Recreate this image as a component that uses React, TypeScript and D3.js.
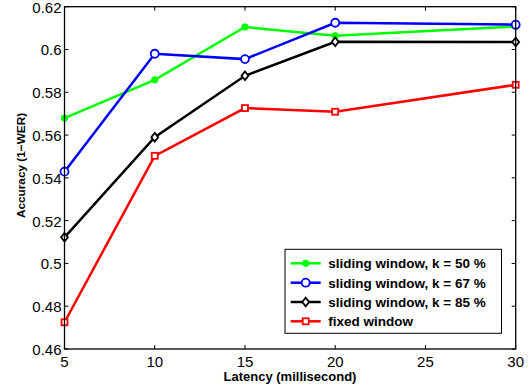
import React from "react";
import * as d3 from "d3";

const latency = [5, 10, 15, 20, 30];
const slide50 = [0.5679, 0.5858, 0.6105, 0.6064, 0.6108];
const slide67 = [0.5429, 0.598, 0.5955, 0.6125, 0.6116];
const slide85 = [0.5122, 0.559, 0.5877, 0.6036, 0.6035];
const fixedWin = [0.4725, 0.5503, 0.5726, 0.5709, 0.5835];
const xTicks = [5, 10, 15, 20, 25, 30];
const yTicks = [0.46, 0.48, 0.5, 0.52, 0.54, 0.56, 0.58, 0.6, 0.62];
const seriesNames = [
  "sliding window, k = 50 %",
  "sliding window, k = 67 %",
  "sliding window, k = 85 %",
  "fixed window",
];

const W = 529, H = 390;
const L = 64.5, R = 515.7, T = 6.7, B = 349;
const FONT = "'Liberation Sans', Arial, Helvetica, sans-serif";

type Kind = "dot" | "circle" | "diamond" | "square";

function Marker({ kind, x, y, color }: { kind: Kind; x: number; y: number; color: string }) {
  if (kind === "dot") return <circle cx={x} cy={y} r={3.2} fill={color} stroke={color} strokeWidth={1} />;
  if (kind === "circle") return <circle cx={x} cy={y} r={4} fill="white" stroke={color} strokeWidth={1.8} />;
  if (kind === "diamond") {
    const s = 4.3;
    return <path d={`M${x},${y - s}L${x + s * 0.8},${y}L${x},${y + s}L${x - s * 0.8},${y}Z`} fill="white" stroke={color} strokeWidth={1.8} />;
  }
  return <rect x={x - 3} y={y - 3} width={6} height={6} fill="white" stroke={color} strokeWidth={1.8} />;
}

export default function App() {
  const x = d3.scaleLinear().domain([5, 30]).range([L, R]);
  const y = d3.scaleLinear().domain([0.46, 0.62]).range([B, T]);
  const line = d3.line<number>().x((_, i) => x(latency[i])).y((d) => y(d));

  const series: { vals: number[]; color: string; kind: Kind }[] = [
    { vals: slide50, color: "#00ff00", kind: "dot" },
    { vals: slide67, color: "#0000ff", kind: "circle" },
    { vals: slide85, color: "#000000", kind: "diamond" },
    { vals: fixedWin, color: "#ff0000", kind: "square" },
  ];
  const tl = 4;

  const legX = 285, legY = 249.3, legW = 216.5, legH = 84;
  const rowY = [263.3, 282.7, 302, 321.3];

  return (
    <svg width={W} height={H} style={{ position: "absolute", left: 0, top: 0, background: "white" }} fontFamily={FONT}>
      <rect x={0} y={0} width={W} height={H} fill="white" />
      {xTicks.map((t) => (
        <g key={"x" + t}>
          <line x1={x(t)} x2={x(t)} y1={B} y2={B - tl} stroke="black" strokeWidth={1} />
          <line x1={x(t)} x2={x(t)} y1={T} y2={T + tl} stroke="black" strokeWidth={1} />
          <text x={x(t)} y={367} textAnchor="middle" fontSize={15} fill="black">{t}</text>
        </g>
      ))}
      {yTicks.map((t) => (
        <g key={"y" + t}>
          <line x1={L} x2={L + tl} y1={y(t)} y2={y(t)} stroke="black" strokeWidth={1} />
          <line x1={R} x2={R - tl} y1={y(t)} y2={y(t)} stroke="black" strokeWidth={1} />
          <text x={61.5} y={y(t) + 6} textAnchor="end" fontSize={15} fill="black">{d3.format("")(+t.toFixed(2))}</text>
        </g>
      ))}
      {series.map((s, si) => (
        <g key={"s" + si}>
          <path d={line(s.vals) || ""} fill="none" stroke={s.color} strokeWidth={2.5} />
          {s.vals.map((v, i) => (
            <Marker key={i} kind={s.kind} x={x(latency[i])} y={y(v)} color={s.color} />
          ))}
        </g>
      ))}
      <rect x={L} y={T} width={R - L} height={B - T} fill="none" stroke="black" strokeWidth={1.3} />
      <rect x={legX} y={legY} width={legW} height={legH} fill="white" stroke="black" strokeWidth={1} />
      {series.map((s, i) => (
        <g key={"l" + i}>
          <line x1={290.7} x2={320.7} y1={rowY[i]} y2={rowY[i]} stroke={s.color} strokeWidth={2.5} />
          <Marker kind={s.kind} x={305.7} y={rowY[i]} color={s.color} />
          <text x={328.3} y={rowY[i] + 5} fontSize={13.5} fontWeight="bold" fill="black">{seriesNames[i]}</text>
        </g>
      ))}
      <text x={290} y={381} textAnchor="middle" fontSize={13} fontWeight="bold" fill="black">Latency (millisecond)</text>
      <text transform={`translate(25,165.5) rotate(-90)`} textAnchor="middle" fontSize={11.8} fontWeight="bold" fill="black">Accuracy (1−WER)</text>
    </svg>
  );
}
